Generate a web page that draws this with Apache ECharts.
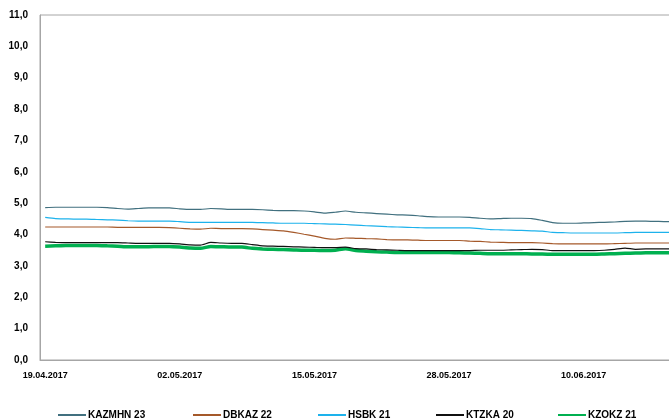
<!DOCTYPE html>
<html>
<head>
<meta charset="utf-8">
<script src="https://cdn.jsdelivr.net/npm/echarts@6/dist/echarts.min.js"></script>
<style>html,body{margin:0;padding:0;background:#fff;overflow:hidden}#c{width:684px;height:418px}</style>
</head>
<body>
<div id="c"></div>
<script>
// daily dates 19.04.2017 .. 19.06.2017
const categories = (function(){
  const out = [];
  const d = new Date(2017, 3, 19);
  for (let i = 0; i < 62; i++) {
    const dd = String(d.getDate()).padStart(2,'0');
    const mm = String(d.getMonth()+1).padStart(2,'0');
    out.push(dd + '.' + mm + '.' + d.getFullYear());
    d.setDate(d.getDate()+1);
  }
  return out;
})();

const seriesNames = ['KAZMHN 23', 'DBKAZ 22', 'HSBK 21', 'KTZKA 20', 'KZOKZ 21'];

const kazmhn23 = [4.86,4.87,4.87,4.87,4.87,4.87,4.86,4.83,4.81,4.83,4.85,4.85,4.85,4.82,4.80,4.80,4.83,4.82,4.80,4.80,4.80,4.79,4.77,4.76,4.76,4.75,4.72,4.68,4.71,4.75,4.71,4.69,4.67,4.65,4.63,4.62,4.60,4.57,4.56,4.56,4.56,4.55,4.52,4.50,4.51,4.52,4.52,4.51,4.45,4.38,4.36,4.36,4.37,4.38,4.39,4.40,4.42,4.43,4.43,4.42,4.41,4.41];
const dbkaz22 = [4.24,4.24,4.24,4.24,4.24,4.24,4.24,4.23,4.23,4.23,4.23,4.23,4.22,4.20,4.18,4.17,4.20,4.19,4.19,4.19,4.18,4.16,4.14,4.12,4.07,4.01,3.95,3.88,3.85,3.89,3.88,3.87,3.86,3.84,3.83,3.83,3.82,3.81,3.81,3.81,3.81,3.79,3.78,3.76,3.75,3.74,3.74,3.74,3.73,3.71,3.70,3.70,3.70,3.70,3.70,3.71,3.72,3.73,3.73,3.73,3.73,3.73];
const hsbk21 = [4.55,4.51,4.50,4.49,4.49,4.48,4.47,4.46,4.44,4.43,4.43,4.43,4.43,4.41,4.39,4.39,4.39,4.39,4.39,4.39,4.39,4.38,4.37,4.36,4.36,4.36,4.35,4.34,4.33,4.32,4.30,4.28,4.27,4.25,4.24,4.23,4.22,4.21,4.21,4.21,4.21,4.21,4.19,4.16,4.15,4.14,4.13,4.12,4.11,4.07,4.06,4.05,4.05,4.05,4.05,4.05,4.06,4.07,4.07,4.07,4.07,4.07];
const ktzka20 = [3.77,3.75,3.74,3.74,3.74,3.74,3.74,3.74,3.73,3.72,3.72,3.72,3.72,3.70,3.67,3.66,3.75,3.73,3.72,3.72,3.68,3.64,3.63,3.62,3.61,3.60,3.59,3.58,3.58,3.60,3.55,3.54,3.52,3.51,3.50,3.49,3.49,3.49,3.49,3.49,3.49,3.49,3.50,3.50,3.50,3.51,3.52,3.53,3.52,3.49,3.49,3.49,3.49,3.49,3.50,3.53,3.57,3.53,3.54,3.54,3.54,3.54];
const kzokz21 = [3.63,3.64,3.65,3.65,3.65,3.65,3.64,3.63,3.61,3.61,3.61,3.62,3.62,3.60,3.57,3.56,3.62,3.61,3.60,3.60,3.56,3.54,3.53,3.52,3.51,3.50,3.50,3.49,3.50,3.55,3.49,3.47,3.45,3.44,3.43,3.43,3.43,3.43,3.43,3.43,3.42,3.41,3.40,3.39,3.39,3.39,3.39,3.38,3.38,3.37,3.37,3.37,3.37,3.37,3.38,3.39,3.40,3.41,3.42,3.42,3.42,3.42];

const seriesData = [kazmhn23, dbkaz22, hsbk21, ktzka20, kzokz21];
const colors = ['#41707F', '#A5592A', '#1DB2EC', '#111111', '#00B050'];
const widths = [1.2, 1.2, 1.2, 1.2, 3.5];
const legendLeft = [52, 187, 312, 430, 552];

const chart = echarts.init(document.getElementById('c'));
const font = 'Liberation Sans, Arial, sans-serif';

chart.setOption({
  animation: false,
  backgroundColor: '#fff',
  grid: { left: 40, top: 15, width: 642, height: 345, show: true, borderColor: '#A6A6A6', borderWidth: 1, containLabel: false },
  legend: seriesNames.map((n, i) => ({
    data: [n], left: legendLeft[i], top: 405, itemWidth: 28, itemHeight: 10, itemGap: 0,
    itemStyle: { opacity: 0 },
    textStyle: { fontFamily: font, fontWeight: 'bold', fontSize: 10, color: '#000', padding: [0,0,0,-3] }
  })),
  xAxis: {
    type: 'category', data: categories, boundaryGap: true,
    axisLine: { show: true, lineStyle: { color: '#A6A6A6', width: 1 } },
    axisTick: { show: false },
    axisLabel: { interval: 12, margin: 11, fontFamily: font, fontWeight: 'bold', fontSize: 9, color: '#000' },
    splitLine: { show: false }
  },
  yAxis: {
    type: 'value', min: 0, max: 11, interval: 1,
    axisLine: { show: true, lineStyle: { color: '#A6A6A6', width: 1 } },
    axisTick: { show: false },
    axisLabel: { margin: 12, fontFamily: font, fontWeight: 'bold', fontSize: 10, color: '#000',
      formatter: v => v.toFixed(1).replace('.', ',') },
    splitLine: { show: false }
  },
  series: seriesNames.map((n, i) => ({
    name: n, type: 'line', data: seriesData[i], symbol: 'none', smooth: 0.2,
    lineStyle: { color: colors[i], width: widths[i] }, itemStyle: { color: colors[i] },
    z: i === 4 ? 1 : 2
  }))
});
</script>
</body>
</html>
